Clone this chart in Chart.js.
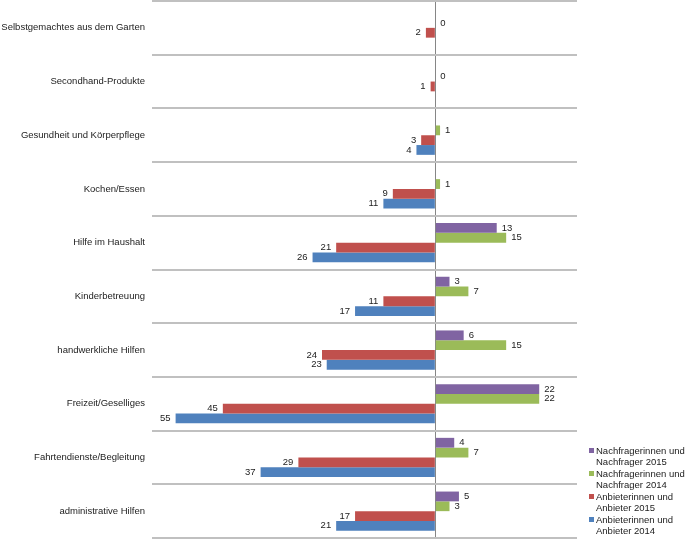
<!DOCTYPE html>
<html>
<head>
<meta charset="utf-8">
<script src="https://cdn.jsdelivr.net/npm/chart.js@4"></script>
<style>
  html, body { margin: 0; padding: 0; background: #fff; }
  #wrap { position: relative; width: 685px; height: 539px; }
  #legend { position: absolute; left: 589px; top: 445px; font: 9.5px "Liberation Sans", Arial, sans-serif; color: #222; line-height: 11px; }
  .item { display: flex; margin-bottom: 1px; }
  .box { width: 5px; height: 5px; margin-top: 3px; margin-right: 2px; flex: none; }
</style>
</head>
<body>
<div id="wrap">
  <canvas id="myChart" width="685" height="539"></canvas>
  <div id="legend"></div>
</div>
<script>
const categories = [
  "Selbstgemachtes aus dem Garten",
  "Secondhand-Produkte",
  "Gesundheit und Körperpflege",
  "Kochen/Essen",
  "Hilfe im Haushalt",
  "Kinderbetreuung",
  "handwerkliche Hilfen",
  "Freizeit/Geselliges",
  "Fahrtendienste/Begleitung",
  "administrative Hilfen"
];
// Anbieter values are stored negative so they extend to the left
const nachfrager2015 = [null, null, null, null, 13, 3, 6, 22, 4, 5];
const nachfrager2014 = [0, 0, 1, 1, 15, 7, 15, 22, 7, 3];
const anbieter2015 = [-2, -1, -3, -9, -21, -11, -24, -45, -29, -17];
const anbieter2014 = [null, null, -4, -11, -26, -17, -23, -55, -37, -21];

const seriesNames = [
  ["Nachfragerinnen und", "Nachfrager 2015"],
  ["Nachfragerinnen und", "Nachfrager 2014"],
  ["Anbieterinnen und", "Anbieter 2015"],
  ["Anbieterinnen und", "Anbieter 2014"]
];
const seriesColors = ["#8064A2", "#9BBB59", "#C0504D", "#4F81BD"];
const seriesData = [nachfrager2015, nachfrager2014, anbieter2015, anbieter2014];

const valueLabels = {
  id: "valueLabels",
  afterDatasetsDraw(chart) {
    const ctx = chart.ctx;
    ctx.save();
    ctx.font = '9.5px "Liberation Sans", Arial, sans-serif';
    ctx.fillStyle = "#222";
    ctx.textBaseline = "middle";
    chart.data.datasets.forEach((ds, i) => {
      chart.getDatasetMeta(i).data.forEach((bar, j) => {
        const v = ds.data[j];
        if (v === null) return;
        if (v < 0) {
          ctx.textAlign = "right";
          ctx.fillText(String(-v), bar.x - 5, bar.y);
        } else {
          ctx.textAlign = "left";
          ctx.fillText(String(v), bar.x + 5, bar.y);
        }
      });
    });
    ctx.restore();
  }
};

const ctx = document.getElementById("myChart").getContext("2d");
new Chart(ctx, {
  type: "bar",
  data: {
    labels: categories,
    datasets: seriesData.map((d, i) => ({
      label: seriesNames[i].join(" "),
      data: d,
      backgroundColor: seriesColors[i],
      borderWidth: 0,
      barPercentage: 1,
      categoryPercentage: 0.73
    }))
  },
  options: {
    indexAxis: "y",
    responsive: false,
    animation: false,
    layout: { padding: { top: 1, bottom: 1, left: 0, right: 108 } },
    plugins: {
      legend: { display: false },
      tooltip: { enabled: false }
    },
    scales: {
      x: {
        min: -60,
        max: 30,
        ticks: { display: false, stepSize: 10 },
        border: { display: false },
        grid: {
          drawTicks: false,
          color: (c) => (c.tick && c.tick.value === 0 ? "#868686" : "rgba(0,0,0,0)"),
          lineWidth: 1
        },
        afterFit: (scale) => {
          scale.height = 0;
          scale.paddingLeft = 0;
          scale.paddingRight = 0;
        }
      },
      y: {
        border: { display: false },
        grid: { color: "#c0c0c0", lineWidth: 2, drawTicks: false, offset: true },
        ticks: {
          padding: 7,
          color: "#222",
          font: { family: '"Liberation Sans", Arial, sans-serif', size: 9.5 }
        },
        afterFit: (scale) => {
          scale.width = 152;
          scale.paddingTop = 0;
          scale.paddingBottom = 0;
        }
      }
    }
  },
  plugins: [valueLabels]
});

const legend = document.getElementById("legend");
seriesNames.forEach((name, i) => {
  const item = document.createElement("div");
  item.className = "item";
  const box = document.createElement("div");
  box.className = "box";
  box.style.background = seriesColors[i];
  const text = document.createElement("div");
  text.innerHTML = name.join("<br>");
  item.appendChild(box);
  item.appendChild(text);
  legend.appendChild(item);
});
</script>
</body>
</html>
